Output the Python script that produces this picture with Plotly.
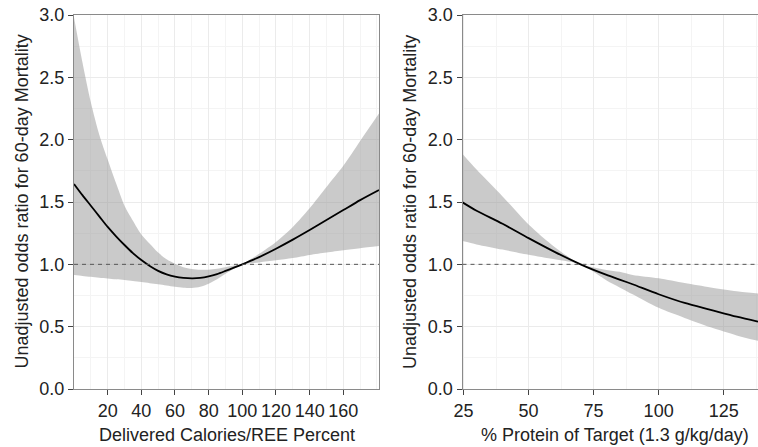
import plotly.graph_objects as go

# ---- Left panel: Delivered Calories/REE Percent ----
cal_x = [0, 5, 10, 15, 20, 25, 30, 35, 40, 45, 50, 55, 60, 65, 70, 75, 80, 85, 90, 95,
         100, 110, 120, 130, 140, 150, 160, 170, 181.2]
cal_or = [1.645, 1.555, 1.47, 1.385, 1.30, 1.225, 1.155, 1.09, 1.034, 0.987, 0.948, 0.92,
          0.902, 0.892, 0.888, 0.891, 0.903, 0.922, 0.947, 0.973,
          1.0, 1.058, 1.125, 1.198, 1.275, 1.355, 1.435, 1.515, 1.596]
cal_hi = [2.98, 2.62, 2.30, 2.04, 1.84, 1.65, 1.47, 1.35, 1.24, 1.165, 1.094, 1.04,
          1.005, 0.977, 0.962, 0.956, 0.957, 0.965, 0.977, 0.99,
          1.003, 1.085, 1.18, 1.30, 1.45, 1.62, 1.79, 1.99, 2.21]
cal_lo = [0.914, 0.907, 0.90, 0.893, 0.887, 0.88, 0.874, 0.866, 0.858, 0.849, 0.84, 0.83,
          0.82, 0.813, 0.81, 0.82, 0.845, 0.88, 0.925, 0.965,
          0.997, 1.015, 1.032, 1.05, 1.075, 1.095, 1.113, 1.13, 1.147]

# ---- Right panel: % Protein of Target ----
pro_x = [24.6, 30, 40, 50, 60, 70, 75, 80, 85, 90, 100, 110, 120, 130, 138.2]
pro_or = [1.497, 1.43, 1.325, 1.21, 1.10, 1.0, 0.955, 0.915, 0.878, 0.84, 0.76, 0.69,
          0.635, 0.58, 0.54]
pro_hi = [1.885, 1.76, 1.545, 1.32, 1.14, 1.0, 0.975, 0.955, 0.94, 0.915, 0.888, 0.85,
          0.815, 0.785, 0.767]
pro_lo = [1.187, 1.16, 1.118, 1.077, 1.04, 1.0, 0.94, 0.87, 0.815, 0.76, 0.651, 0.57,
          0.495, 0.43, 0.387]

y_ticks = [0.0, 0.5, 1.0, 1.5, 2.0, 2.5, 3.0]
y_ticklabels = ["0.0", "0.5", "1.0", "1.5", "2.0", "2.5", "3.0"]
cal_ticks = [20, 40, 60, 80, 100, 120, 140, 160]
pro_ticks = [25, 50, 75, 100, 125]

x_title_left = "Delivered Calories/REE Percent"
x_title_right = "% Protein of Target (1.3 g/kg/day)"
y_title = "Unadjusted odds ratio for 60-day Mortality"

# Body margin is removed by post_script, so figure pixels == window pixels.
W, H = 758, 447
TOP, BOT = 15, 389
FONT = "Liberation Sans, Arial, Helvetica, sans-serif"
BAND = "rgba(150,150,150,0.5)"

def fx(px):
    return px / W

def fy(py):
    return (BOT - py) / (BOT - TOP)

fig = go.Figure()

def add_panel(x, lo, hi, mid, xa, ya):
    fig.add_trace(go.Scatter(x=x, y=hi, mode="lines", line=dict(width=0, shape="spline", smoothing=0.8),
                             xaxis=xa, yaxis=ya, hoverinfo="skip", showlegend=False))
    fig.add_trace(go.Scatter(x=x, y=lo, mode="lines", line=dict(width=0, shape="spline", smoothing=0.8),
                             fill="tonexty", fillcolor=BAND,
                             xaxis=xa, yaxis=ya, hoverinfo="skip", showlegend=False))
    fig.add_trace(go.Scatter(x=x, y=mid, mode="lines",
                             line=dict(color="black", width=1.8, shape="spline", smoothing=0.8),
                             xaxis=xa, yaxis=ya, showlegend=False))

add_panel(cal_x, cal_lo, cal_hi, cal_or, "x", "y")
add_panel(pro_x, pro_lo, pro_hi, pro_or, "x2", "y2")

axis_common = dict(
    showline=True, linecolor="#8a8a8a", linewidth=1,
    ticks="outside", ticklen=5, tickcolor="#444", tickwidth=1,
    showgrid=True, gridcolor="#ebebeb", gridwidth=1,
    zeroline=False, automargin=False, ticklabeloverflow="allow",
    tickfont=dict(family=FONT, size=18, color="#222"),
)
minor_common = dict(showgrid=True, gridcolor="#f4f4f4", gridwidth=1, ticks="")

fig.update_layout(
    template="none",
    width=W, height=H,
    margin=dict(l=0, r=0, t=TOP, b=H - BOT, pad=0),
    paper_bgcolor="white", plot_bgcolor="white",
    font=dict(family=FONT, size=18, color="#222"),
    xaxis=dict(domain=[fx(74), fx(379)], range=[0, 181.2], tickvals=cal_ticks,
               minor=dict(tick0=0, dtick=10, **minor_common),
               mirror=True, anchor="y", **axis_common),
    yaxis=dict(domain=[0, 1], range=[0, 3], tickvals=y_ticks, ticktext=y_ticklabels,
               minor=dict(tick0=0, dtick=0.25, **minor_common),
               mirror=True, anchor="x", **axis_common),
    xaxis2=dict(domain=[fx(462.5), 1], range=[24.6, 138.2], tickvals=pro_ticks,
                minor=dict(tick0=0, dtick=12.5, **minor_common),
                mirror=True, anchor="y2", **axis_common),
    yaxis2=dict(domain=[0, 1], range=[0, 3], tickvals=y_ticks, ticktext=y_ticklabels,
                minor=dict(tick0=0, dtick=0.25, **minor_common),
                anchor="x2", **axis_common),
)

for xr, yr in [("x domain", "y"), ("x2 domain", "y2")]:
    fig.add_shape(type="line", xref=xr, yref=yr, x0=0, x1=1, y0=1, y1=1,
                  line=dict(color="#555", width=1, dash="4px,4px"), layer="above")

annos = [
    dict(text=x_title_left, x=fx(226.5), y=fy(435), textangle=0),
    dict(text=x_title_right, x=fx(614.5), y=fy(435), textangle=0),
    dict(text=y_title, x=fx(21.5), y=fy(202), textangle=-90),
    dict(text=y_title, x=fx(410), y=fy(202), textangle=-90),
]
for a in annos:
    fig.add_annotation(xref="paper", yref="paper", showarrow=False,
                       xanchor="center", yanchor="middle",
                       font=dict(family=FONT, size=18, color="#222"), **a)

fig.write_html(
    "out.html",
    config={"displayModeBar": False, "staticPlot": True},
    post_script="document.body.style.margin='0';document.body.style.overflow='hidden';",
)
